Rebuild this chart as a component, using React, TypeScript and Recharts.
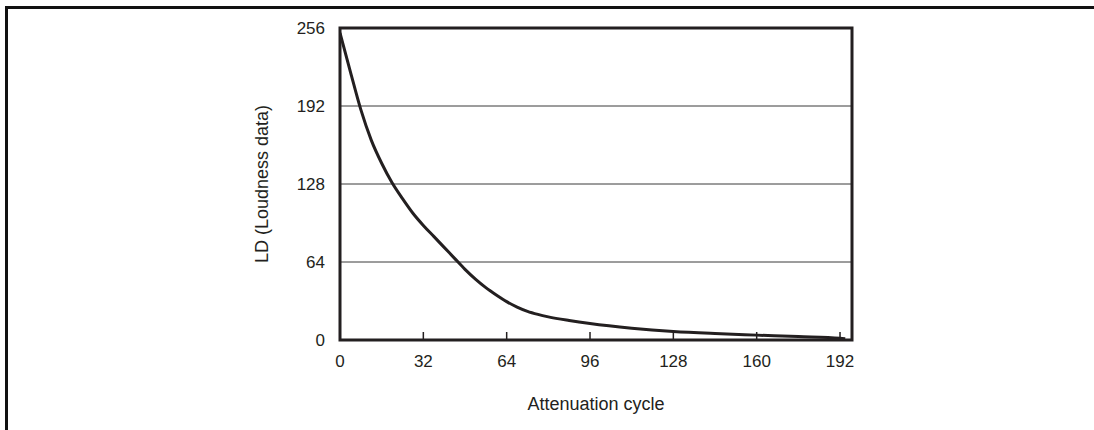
import React from 'react';
import {
  LineChart,
  Line,
  XAxis,
  YAxis,
  CartesianGrid,
  ReferenceArea,
} from 'recharts';

// attenuation cycle vs loudness data
const cycles = [0, 4, 8, 12, 16, 20, 24, 28, 32, 36, 40, 44, 48, 52, 56, 60, 64, 68, 72, 76, 80, 88, 96, 112, 128, 144, 160, 176, 192, 194];
const loudness = [252, 220, 189, 164, 145, 129, 116, 104, 94, 85, 76, 67, 58, 50, 43, 37, 31.5, 27, 23.5, 21, 19, 16, 13.5, 9.7, 7, 5.3, 4, 2.8, 1.4, 1];

const xTicks = [0, 32, 64, 96, 128, 160, 192];
const yTicks = [0, 64, 128, 192, 256];
const X_MAX = 196.6;
const Y_MAX = 256;

const data = cycles.map((c, i) => ({ cycle: c, ld: loudness[i] }));

const INK = '#231f20';
const FONT = '"Liberation Sans", Arial, Helvetica, sans-serif';

const App: React.FC = () => {
  return (
    <div style={{ position: 'fixed', left: 0, top: 0, width: 1094, height: 430, background: '#fff' }}>
      <div
        style={{
          position: 'absolute',
          left: 5,
          top: 6,
          width: 1094,
          height: 430,
          borderTop: '3px solid #111',
          borderLeft: '3px solid #111',
        }}
      />
      <div style={{ position: 'absolute', left: 0, top: 0 }}>
        <LineChart
          width={1094}
          height={430}
          data={data}
          margin={{ top: 28, right: 242, left: 184, bottom: 0 }}
          style={{ fontFamily: FONT }}
        >
          <CartesianGrid horizontal vertical={false} stroke="#3a3a3a" strokeWidth={1} />
          <XAxis
            dataKey="cycle"
            type="number"
            domain={[0, X_MAX]}
            ticks={xTicks}
            allowDataOverflow
            height={90}
            axisLine={false}
            tickSize={-8}
            tickMargin={23}
            tickLine={{ stroke: INK, strokeWidth: 1.5 }}
            tick={{ fill: INK, fontSize: 17 }}
            label={{ value: 'Attenuation cycle', position: 'insideBottom', offset: 20, fill: INK, fontSize: 18 }}
          />
          <YAxis
            type="number"
            domain={[0, Y_MAX]}
            ticks={yTicks}
            width={156}
            axisLine={false}
            tickLine={false}
            tickSize={0}
            tickMargin={15}
            tick={{ fill: INK, fontSize: 17 }}
            label={{ value: 'LD (Loudness data)', angle: -90, position: 'center', fill: INK, fontSize: 18 }}
          />
          <ReferenceArea
            x1={0}
            x2={X_MAX}
            y1={0}
            y2={Y_MAX}
            fill="none"
            stroke={INK}
            strokeWidth={3}
            fillOpacity={0}
            ifOverflow="visible"
          />
          <Line
            type="monotone"
            dataKey="ld"
            stroke={INK}
            strokeWidth={3}
            dot={false}
            isAnimationActive={false}
          />
        </LineChart>
      </div>
    </div>
  );
};

export default App;
